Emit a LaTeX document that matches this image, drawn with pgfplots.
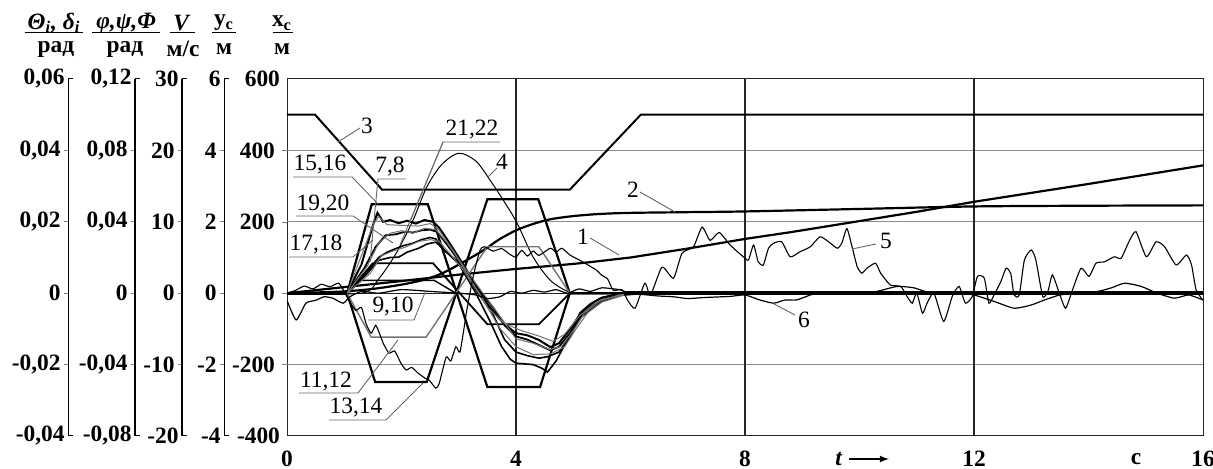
\documentclass[border=0pt]{standalone}
\usepackage{fontspec}
\setmainfont{Liberation Serif}
\usepackage{pgfplots}
\pgfplotsset{compat=1.18}
\newcommand\lab{\fontsize{11.7}{12}\selectfont\bfseries}
\newcommand\clf{\fontsize{11.7}{12}\selectfont}
\pgfplotsset{sideax/.style={anchor=south west, scale only axis, width=8pt, height=178.5pt,
  xmin=0, xmax=1, hide x axis, axis y line*=left, y axis line style={-},
  scaled y ticks=false,
  tick align=outside, major tick length=2pt, ytick style={line width=0.5pt},
  yticklabel style={font=\lab, inner sep=1.5pt},
  extra y tick style={major tick length=0pt}}}
\begin{document}
\begin{tikzpicture}
\path[use as bounding box] (0,0) rectangle (606.5pt,234.5pt);

% ---------- side scales ----------
\begin{axis}[sideax, at={(34pt,16.5pt)}, ymin=-0.04, ymax=0.06,
  y axis line style={line width=0.5pt},
  ytick={-0.02,0,0.02,0.04}, yticklabels={{-0,02},{0},{0,02},{0,04}},
  extra y ticks={-0.04,0.06}, extra y tick labels={{-0,04},{0,06}}]
\end{axis}
\begin{axis}[sideax, at={(67.5pt,16.5pt)}, ymin=-0.08, ymax=0.12,
  y axis line style={line width=1.2pt},
  ytick={-0.04,0,0.04,0.08}, yticklabels={{-0,04},{0},{0,04},{0,08}},
  extra y ticks={-0.08,0.12}, extra y tick labels={{-0,08},{0,12}}]
\end{axis}
\begin{axis}[sideax, at={(91pt,16.5pt)}, ymin=-20, ymax=30,
  y axis line style={line width=1.2pt},
  ytick={-10,0,10,20}, yticklabels={{-10},{0},{10},{20}},
  extra y ticks={-20,30}, extra y tick labels={{-20},{30}}]
\end{axis}
\begin{axis}[sideax, at={(112pt,16.5pt)}, ymin=-4, ymax=6,
  y axis line style={line width=0.5pt},
  ytick={-2,0,2,4}, yticklabels={{-2},{0},{2},{4}},
  extra y ticks={-4,6}, extra y tick labels={{-4},{6}}]
\end{axis}
\foreach \xx in {34,67.5,91,112}{
  \draw[line width=0.5pt] (\xx pt,16.5pt) -- ++(2.5pt,0);
  \draw[line width=0.5pt] (\xx pt,195pt) -- ++(2.5pt,0);
}

% ---------- headers ----------
\node[font=\lab] at (27pt,223pt) {\textit{Θ}\textsubscript{\textit{i}}\textit{, δ}\textsubscript{\textit{i}}};
\draw[line width=0.5pt] (12.5pt,218pt) -- (41.5pt,218pt);
\node[font=\lab] at (28pt,210pt) {рад};
\node[font=\lab] at (63pt,223pt) {\textit{φ,ψ,Φ}};
\draw[line width=0.5pt] (46pt,218pt) -- (80pt,218pt);
\node[font=\lab] at (62.5pt,210pt) {рад};
\node[font=\lab] at (91pt,223pt) {\textit{V}};
\draw[line width=0.5pt] (85pt,218pt) -- (97.5pt,218pt);
\node[font=\lab] at (91.5pt,210pt) {м/с};
\node[font=\lab] at (112pt,223pt) {y\textsubscript{c}};
\draw[line width=0.5pt] (106pt,218pt) -- (118pt,218pt);
\node[font=\lab] at (112pt,210pt) {м};
\node[font=\lab] at (141pt,223pt) {x\textsubscript{c}};
\draw[line width=0.5pt] (136.5pt,218pt) -- (146.5pt,218pt);
\node[font=\lab] at (141pt,210pt) {м};

% ---------- main axis ----------
\begin{axis}[at={(143.5pt,16.5pt)}, anchor=south west, scale only axis,
  width=458pt, height=178.5pt, xmin=0, xmax=16, ymin=-400, ymax=600,
  axis line style={line width=0.5pt, black!85},
  xtick={0,4,8,12,16}, xticklabels={0,4,8,12,16},
  ytick={-200,0,200,400}, yticklabels={-200,0,200,400},
  extra y ticks={-400,600}, extra y tick labels={-400,600},
  extra y tick style={major tick length=0pt},
  ytick pos=left, tick align=outside, major tick length=2.5pt,
  xtick style={draw=none}, tick label style={font=\lab},
  xticklabel style={yshift=-1.5pt}]

\draw[black!45, line width=0.6pt] (axis cs:0,-200) -- (axis cs:16,-200);
\draw[black!45, line width=0.6pt] (axis cs:0,200) -- (axis cs:16,200);
\draw[black!45, line width=0.6pt] (axis cs:0,400) -- (axis cs:16,400);
\draw[black!85, line width=0.5pt] (axis cs:0,0) -- (axis cs:16,0);
\draw[black!85, line width=0.6pt] (axis cs:4,-400) -- (axis cs:4,600);
\draw[black!85, line width=0.6pt] (axis cs:8,-400) -- (axis cs:8,600);
\draw[black!85, line width=0.6pt] (axis cs:12,-400) -- (axis cs:12,600);

% curve 3
\addplot[black, line width=1pt] coordinates {(0,500)(0.49,500)(1.66,290)(4.94,290)(6.18,500)(16,500)};
% curve 2
\addplot[black, line width=1.1pt, smooth] coordinates {(0,0)(0.5,2)(1.0,5)(1.5,12)(2.0,24)(2.4,38)(2.7,55)(3.0,80)(3.43,120)(3.7,150)(4.0,176)(4.3,194)(4.6,207)(5.0,216)(5.47,222)(6.0,225)(7.0,227)(8.0,229)(10,236)(12,243)(14,245)(16,246)};
% curve 1
\addplot[black, line width=1.1pt] coordinates {(0,0)(1,17)(2,34)(3,52)(4,68)(5,82)(5.3,87)(6,100)(7,125)(8,152)(8.8,171)(10,202)(11,228)(12,256)(13,281)(14,306)(15,332)(16,358)};
% curve 4
\addplot[black, line width=0.5pt, smooth] coordinates {(0,0)(1.3,0)(1.6,40)(1.9,110)(2.2,204)(2.44,297)(2.7,360)(3.0,392)(3.3,370)(3.55,316)(3.8,255)(4.02,196)(4.3,101)(4.6,36)(4.9,5)(5.1,0)};
% trapezoids
\addplot[black, line width=1.1pt] coordinates {(0,0)(1.05,0)(1.48,249)(2.46,249)(3.5,-263)(4.42,-263)(4.94,0)(16,0)};
\addplot[black, line width=1.1pt] coordinates {(0,0)(1.05,0)(1.54,-249)(2.44,-249)(3.5,263)(4.39,263)(4.94,0)(16,0)};
\addplot[black, line width=0.9pt] coordinates {(1.05,0)(1.5,84)(2.55,84)(3.5,-87)(4.4,-87)(4.94,0)};
\addplot[black!55, line width=0.7pt] coordinates {(1.05,0)(1.47,-123)(2.43,-123)(3.5,130)(4.4,130)(4.94,0)};
\addplot[black, line width=0.7pt] coordinates {(1.05,0)(1.3,36)(2.57,36)(2.95,0)};
% bundle responses
\addplot[black, line width=1pt] coordinates {(0,0)(1.05,0)(1.3,80)(1.5,190)(1.58,225)(1.68,200)(1.8,205)(1.95,196)(2.1,203)(2.25,195)(2.4,205)(2.55,200)(2.65,185)(2.8,150)(3.0,100)(3.1,75)(3.3,20)(3.5,-30)(3.7,-70)(3.9,-100)(4.0,-112)(4.2,-118)(4.4,-131)(4.6,-151)(4.75,-140)(4.9,-110)(5.12,-60)(5.3,-35)(5.47,-15)(5.7,-5)(6.0,0)};
\addplot[black, line width=0.9pt] coordinates {(1.05,0)(1.35,70)(1.55,130)(1.72,162)(1.9,165)(2.05,172)(2.2,170)(2.35,176)(2.5,178)(2.62,172)(2.8,135)(3.1,70)(3.35,10)(3.6,-40)(3.8,-90)(4.0,-121)(4.2,-130)(4.4,-145)(4.6,-160)(4.75,-150)(4.95,-110)(5.12,-55)(5.3,-30)(5.5,-12)(5.8,-3)(6.1,0)};
\addplot[black, line width=0.8pt] coordinates {(1.05,0)(1.4,60)(1.6,100)(1.75,115)(1.9,125)(2.05,134)(2.2,140)(2.35,150)(2.5,156)(2.6,152)(2.75,120)(3.05,80)(3.3,10)(3.6,-60)(3.8,-130)(4.0,-165)(4.2,-175)(4.4,-182)(4.55,-178)(4.75,-165)(4.95,-120)(5.12,-65)(5.3,-40)(5.5,-20)(5.8,-5)(6.2,0)};
\addplot[black, line width=0.8pt] coordinates {(1.05,0)(1.4,55)(1.6,92)(1.8,100)(1.95,101)(2.1,115)(2.3,126)(2.45,138)(2.6,143)(2.72,125)(3.0,82)(3.3,0)(3.55,-80)(3.75,-150)(3.9,-185)(4.0,-196)(4.3,-200)(4.45,-210)(4.55,-221)(4.7,-190)(4.9,-130)(5.12,-70)(5.3,-45)(5.5,-22)(5.8,-6)(6.3,0)};
\addplot[black!55, line width=0.5pt] coordinates {(1.05,0)(1.4,75)(1.6,140)(1.8,168)(2.0,175)(2.2,168)(2.4,182)(2.6,178)(2.8,140)(3.1,72)(3.4,5)(3.7,-60)(4.0,-128)(4.3,-140)(4.6,-158)(4.8,-148)(5.0,-105)(5.2,-55)(5.5,-18)(5.9,-3)(6.2,0)};
\addplot[black!55, line width=0.5pt] coordinates {(1.05,0)(1.45,55)(1.65,105)(1.85,118)(2.05,128)(2.3,145)(2.5,150)(2.65,146)(2.85,110)(3.1,60)(3.4,-10)(3.7,-95)(4.0,-150)(4.3,-172)(4.6,-170)(4.85,-150)(5.05,-100)(5.25,-55)(5.5,-25)(5.9,-5)(6.3,0)};
\addplot[black!55, line width=0.5pt] coordinates {(1.05,0)(1.5,190)(1.6,215)(1.75,192)(2.0,190)(2.3,188)(2.5,195)(2.65,178)(2.9,120)(3.2,40)(3.5,-40)(3.8,-85)(4.1,-105)(4.4,-120)(4.65,-135)(4.85,-115)(5.1,-65)(5.4,-25)(5.8,-5)(6.1,0)};
% curve 5
\addplot[black, line width=0.55pt, smooth, tension=0.35] coordinates {(0,0)(0.15,8)(0.3,20)(0.45,12)(0.6,25)(0.75,18)(0.9,28)(1.0,5)(1.08,-20)(1.2,-48)(1.3,-40)(1.38,-85)(1.47,-112)(1.55,-90)(1.62,-115)(1.68,-140)(1.78,-168)(1.88,-162)(1.99,-196)(2.08,-215)(2.18,-208)(2.29,-224)(2.41,-238)(2.48,-243)(2.6,-266)(2.66,-252)(2.78,-179)(2.86,-190)(2.95,-150)(3.02,-165)(3.1,-90)(3.14,-48)(3.25,45)(3.37,120)(3.45,130)(3.6,118)(3.75,125)(3.9,108)(4.0,101)(4.1,120)(4.2,104)(4.3,118)(4.4,106)(4.6,126)(4.7,115)(4.8,126)(4.95,106)(5.12,92)(5.3,75)(5.41,64)(5.5,50)(5.6,40)(5.7,8)(5.85,10)(5.95,-20)(6.08,-42)(6.25,28)(6.35,-5)(6.55,73)(6.75,42)(6.9,112)(7.1,130)(7.25,185)(7.39,148)(7.55,170)(7.74,135)(7.97,102)(8.06,93)(8.15,135)(8.23,88)(8.32,79)(8.41,126)(8.5,140)(8.64,144)(8.79,102)(8.96,116)(9.14,130)(9.31,158)(9.46,144)(9.61,126)(9.69,140)(9.78,181)(9.87,130)(9.96,74)(10.04,56)(10.13,70)(10.28,84)(10.37,56)(10.54,23)(10.72,19)(10.83,-9)(10.92,-28)(11.0,0)(11.1,-56)(11.18,-28)(11.3,0)(11.47,-79)(11.62,-9)(11.74,19)(11.85,-28)(11.97,-9)(12.06,47)(12.18,42)(12.26,-28)(12.35,-5)(12.47,33)(12.56,70)(12.64,56)(12.7,-5)(12.79,-5)(12.88,93)(13.0,121)(13.08,93)(13.2,-9)(13.29,5)(13.37,51)(13.49,0)(13.6,-42)(13.72,9)(13.87,70)(14.01,47)(14.13,84)(14.28,88)(14.45,102)(14.57,98)(14.72,149)(14.83,172)(15.01,102)(15.18,144)(15.33,130)(15.53,79)(15.71,107)(15.8,79)(15.88,9)(16,-19)};
% curve 6
\addplot[black, line width=0.6pt, smooth, tension=0.35] coordinates {(0,-20)(0.16,-75)(0.33,-28)(0.5,-20)(0.65,-10)(0.8,-14)(0.98,-28)(1.1,-10)(1.3,5)(1.6,0)(2.0,10)(2.5,5)(3.0,0)(3.3,-5)(3.5,-15)(3.72,-10)(3.9,5)(4.1,0)(4.3,8)(4.5,3)(4.7,10)(4.9,0)(5.1,12)(5.3,5)(5.5,15)(5.8,10)(6.0,0)(6.3,-5)(6.5,-8)(6.75,-10)(7.0,-15)(7.3,-12)(7.74,-9)(8.0,-5)(8.26,-19)(8.5,-28)(8.7,-19)(8.9,-19)(9.14,-5)(9.3,0)(9.6,0)(10.0,3)(10.3,5)(10.66,19)(10.95,15)(11.2,3)(11.7,0)(12.0,-5)(12.35,-23)(12.7,-42)(13.0,-33)(13.23,-19)(13.5,-5)(13.8,0)(14.16,5)(14.4,15)(14.63,28)(14.92,19)(15.2,0)(15.5,-14)(15.75,-5)(16,-19)};
% coincident settled curves
\addplot[black, line width=1.6pt] coordinates {(0,0)(1.05,0)};
\addplot[black, line width=2.2pt] coordinates {(5.9,0)(16,0)};
\end{axis}

% ---------- x-axis words ----------
\node[font=\lab] at (419.5pt,5pt) {\textit{t}};
\draw[-latex, line width=0.6pt] (424.5pt,5pt) -- (444.5pt,5pt);
\node[font=\lab] at (568pt,5pt) {с};

% ---------- callouts ----------
\begin{scope}[black!60, line width=0.45pt]
\node[black, font=\clf] at (183.5pt,171.5pt) {3};
\draw (180pt,170.5pt) -- (169pt,163.5pt);
\node[black, font=\clf] at (236pt,169.5pt) {21,22};
\draw (250pt,163.5pt) -- (221.5pt,163.5pt) -- (205pt,123.5pt);
\draw (221.5pt,163.5pt) -- (200pt,112pt);
\node[black, font=\clf] at (251pt,153.5pt) {4};
\draw (248.5pt,150.5pt) -- (244pt,146pt);
\node[black, font=\clf] at (160pt,152pt) {15,16};
\draw (146.5pt,146pt) -- (176pt,146pt) -- (189pt,132.5pt);
\node[black, font=\clf] at (195pt,151pt) {7,8};
\draw (203pt,145pt) -- (189pt,145pt) -- (185pt,103.5pt);
\node[black, font=\clf] at (161.5pt,132pt) {19,20};
\draw (148pt,126.5pt) -- (176.5pt,126.5pt) -- (196.5pt,113pt);
\node[black, font=\clf] at (158pt,112pt) {17,18};
\draw (144.5pt,106pt) -- (176.5pt,106pt) -- (186.5pt,114.5pt);
\node[black, font=\clf] at (196.5pt,81pt) {9,10};
\draw (184pt,74.5pt) -- (207pt,74.5pt) -- (213pt,89.5pt);
\node[black, font=\clf] at (163pt,43.5pt) {11,12};
\draw (149.5pt,38pt) -- (179pt,38pt) -- (199pt,64.5pt);
\node[black, font=\clf] at (178pt,30.5pt) {13,14};
\draw (164.5pt,24.5pt) -- (193pt,24.5pt) -- (211.5pt,43pt);
\node[black, font=\clf] at (291.5pt,116pt) {1};
\draw (295pt,115.5pt) -- (309.5pt,107pt);
\node[black, font=\clf] at (316.5pt,139.5pt) {2};
\draw (320pt,138.5pt) -- (337.5pt,128.5pt);
\node[black, font=\clf] at (443pt,114pt) {5};
\draw (438pt,112.5pt) -- (426pt,110pt);
\node[black, font=\clf] at (402pt,74.5pt) {6};
\draw (397.5pt,77pt) -- (387pt,82.5pt);
\end{scope}
\end{tikzpicture}
\end{document}
